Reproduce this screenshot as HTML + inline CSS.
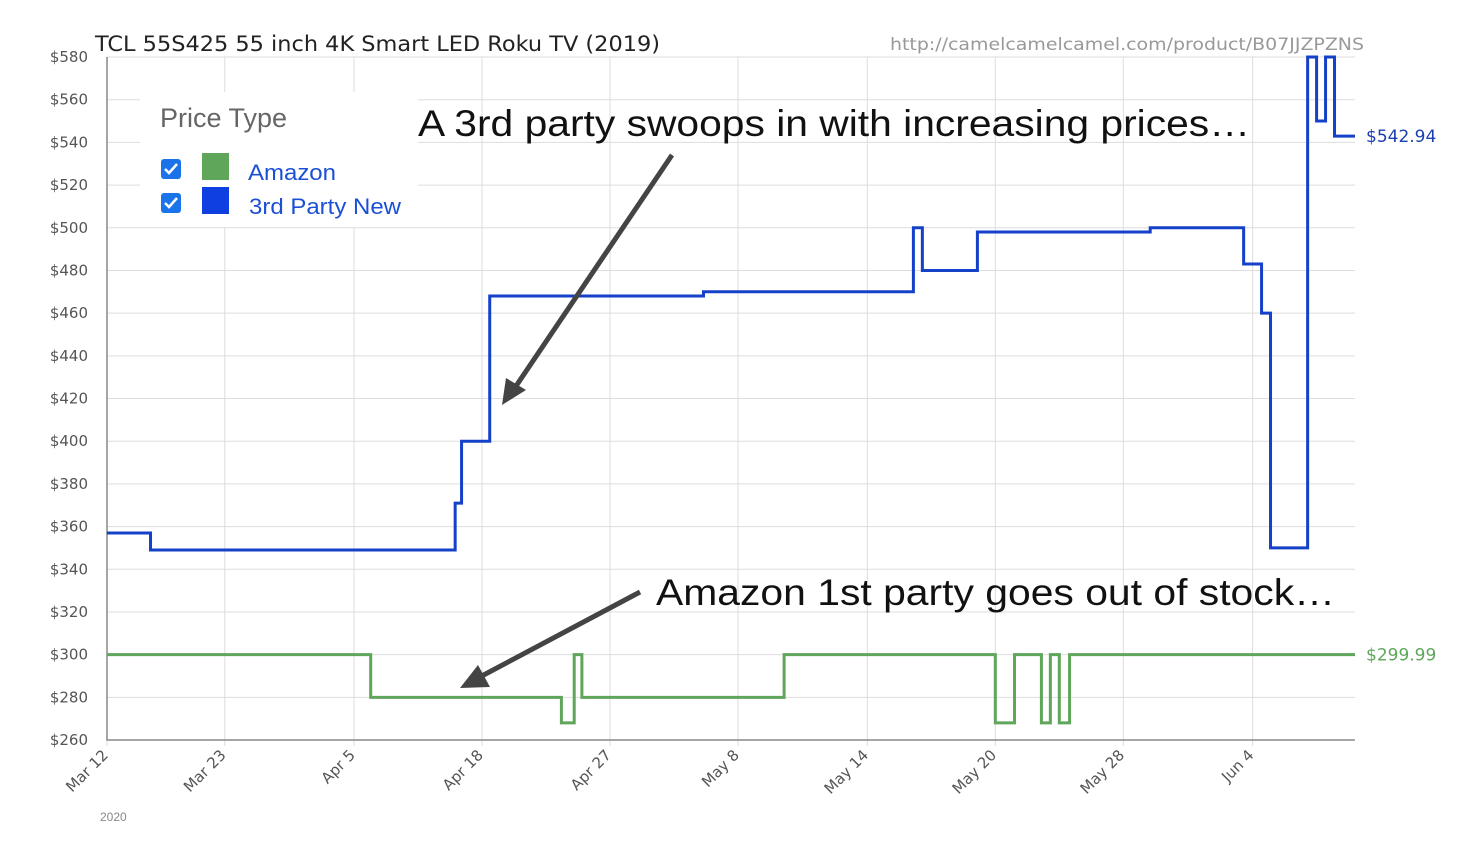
<!DOCTYPE html>
<html><head><meta charset="utf-8"><style>
body{margin:0;background:#fff;font-family:"Liberation Sans",sans-serif}
svg text{font-family:"Liberation Sans",sans-serif}
</style></head><body>
<svg id="c" width="1466" height="853">
<rect width="1466" height="853" fill="#fff"/>
<g id="grid"></g><g id="axes"></g><g id="series"></g>
<text x="95" y="51" font-size="21" fill="#222" textLength="565" lengthAdjust="spacingAndGlyphs" style="font-family:'DejaVu Sans',sans-serif">TCL 55S425 55 inch 4K Smart LED Roku TV (2019)</text>
<text x="890" y="50" font-size="17" fill="#999" textLength="474" lengthAdjust="spacingAndGlyphs" style="font-family:'DejaVu Sans',sans-serif">http://camelcamelcamel.com/product/B07JJZPZNS</text>
<text x="100" y="821" font-size="12" fill="#888">2020</text>
<g>
<rect x="140" y="92" width="278" height="135" fill="#fff"/>
<text x="160" y="127" font-size="27" fill="#666">Price Type</text>
<g>
<rect x="161" y="159" width="20" height="20" rx="3" fill="#1a73e8"/><path d="M165 169 l4 4 l8 -9" stroke="#fff" stroke-width="2.5" fill="none"/>
<rect x="202" y="153" width="27" height="27" fill="#5fa55a"/>
<text x="248" y="180" font-size="22" fill="#1a4fd6" textLength="88" lengthAdjust="spacingAndGlyphs">Amazon</text></g>
<g>
<rect x="161" y="193" width="20" height="20" rx="3" fill="#1a73e8"/><path d="M165 203 l4 4 l8 -9" stroke="#fff" stroke-width="2.5" fill="none"/>
<rect x="202" y="187" width="27" height="27" fill="#0f3fe0"/>
<text x="249" y="214" font-size="22" fill="#1a4fd6" textLength="152" lengthAdjust="spacingAndGlyphs">3rd Party New</text></g>
</g>
<text x="418" y="136" font-size="37" fill="#111" textLength="832" lengthAdjust="spacingAndGlyphs">A 3rd party swoops in with increasing prices…</text>
<text x="656" y="605" font-size="37" fill="#111" textLength="679" lengthAdjust="spacingAndGlyphs">Amazon 1st party goes out of stock…</text>
<line x1="672" y1="155" x2="512" y2="392" stroke="#444" stroke-width="5"/>
<path d="M502 405 L506 378 L526 390 z" fill="#444"/>
<line x1="640" y1="592" x2="478" y2="678" stroke="#444" stroke-width="5"/>
<path d="M460 688 L478 665 L490 687 z" fill="#444"/>
</svg>
<script>
const yTicks=[260,280,300,320,340,360,380,400,420,440,460,480,500,520,540,560,580];
const xTickLabels=["Mar 12","Mar 23","Apr 5","Apr 18","Apr 27","May 8","May 14","May 20","May 28","Jun 4"];
const xTickPos=[0,0.92,1.93,2.93,3.93,4.93,5.94,6.94,7.94,8.95];
const thirdX=[0,0.34,2.72,2.77,2.99,4.66,6.30,6.37,6.80,8.15,8.88,9.02,9.09,9.38,9.45,9.52,9.59];
const thirdY=[357,349,371,400,468,470,500,480,498,500,483,460,350,580,550,580,542.94];
const amazonX=[0,2.06,3.55,3.65,3.71,5.29,6.94,7.09,7.30,7.37,7.44,7.52];
const amazonY=[300,280,268,300,280,300,268,300,268,300,268,300];
const X0=107,X1=1355,Y0=740,Y1=57,UMAX=9.75;
const x=u=>X0+u/UMAX*(X1-X0);
const y=v=>Y0-(v-260)/(580-260)*(Y0-Y1);
const NS="http://www.w3.org/2000/svg";
function mk(p,t,a){const e=document.createElementNS(NS,t);for(const k in a)e.setAttribute(k,a[k]);p.appendChild(e);return e;}
const grid=document.getElementById('grid'),axes=document.getElementById('axes'),ser=document.getElementById('series');
yTicks.forEach(v=>{
 const l=mk(grid,'line',{x1:X0,x2:X1,y1:y(v),y2:y(v),stroke:'#ddd','stroke-width':1});
 
 
 const t=mk(axes,'text',{x:88,y:y(v)+5,'font-size':15,fill:'#555','text-anchor':'end',style:"font-family:'DejaVu Sans',sans-serif"});
 t.textContent='$'+v;
 
 
});
xTickPos.forEach((u,i)=>{
 const l=mk(grid,'line',{x1:x(u),x2:x(u),y1:Y1,y2:Y0+6,stroke:'#ddd','stroke-width':1});
 
 
 const t=mk(axes,'text',{x:x(u)+2,y:Y0+16,'font-size':15,fill:'#555','text-anchor':'end',transform:`rotate(-45 ${x(u)+2} ${Y0+16})`,style:"font-family:'DejaVu Sans',sans-serif"});
 t.textContent=xTickLabels[i];
 
 
});
const ax=mk(axes,'path',{d:`M${X0} ${Y1} V${Y0} H${X1}`,stroke:'#888','stroke-width':1.5,fill:'none'});


function step(xs,ys){let d=`M${x(xs[0])} ${y(ys[0])}`;for(let i=1;i<xs.length;i++){d+=` H${x(xs[i])} V${y(ys[i])}`;}d+=` H${x(UMAX)}`;return d;}
const g=mk(ser,'path',{d:step(amazonX,amazonY),stroke:'#5fa55a','stroke-width':3,fill:'none'});


const b=mk(ser,'path',{d:step(thirdX,thirdY),stroke:'#1540c8','stroke-width':3,fill:'none'});


const lb=mk(ser,'text',{x:1366,y:y(thirdY[thirdY.length-1])+6,'font-size':17,fill:'#1a3fb0',style:"font-family:'DejaVu Sans',sans-serif"});
lb.textContent='$'+thirdY[thirdY.length-1].toFixed(2);


const la=mk(ser,'text',{x:1366,y:y(amazonY[amazonY.length-1])+6,'font-size':17,fill:'#5fa55a',style:"font-family:'DejaVu Sans',sans-serif"});
la.textContent='$299.99';


</script>
</body></html>
